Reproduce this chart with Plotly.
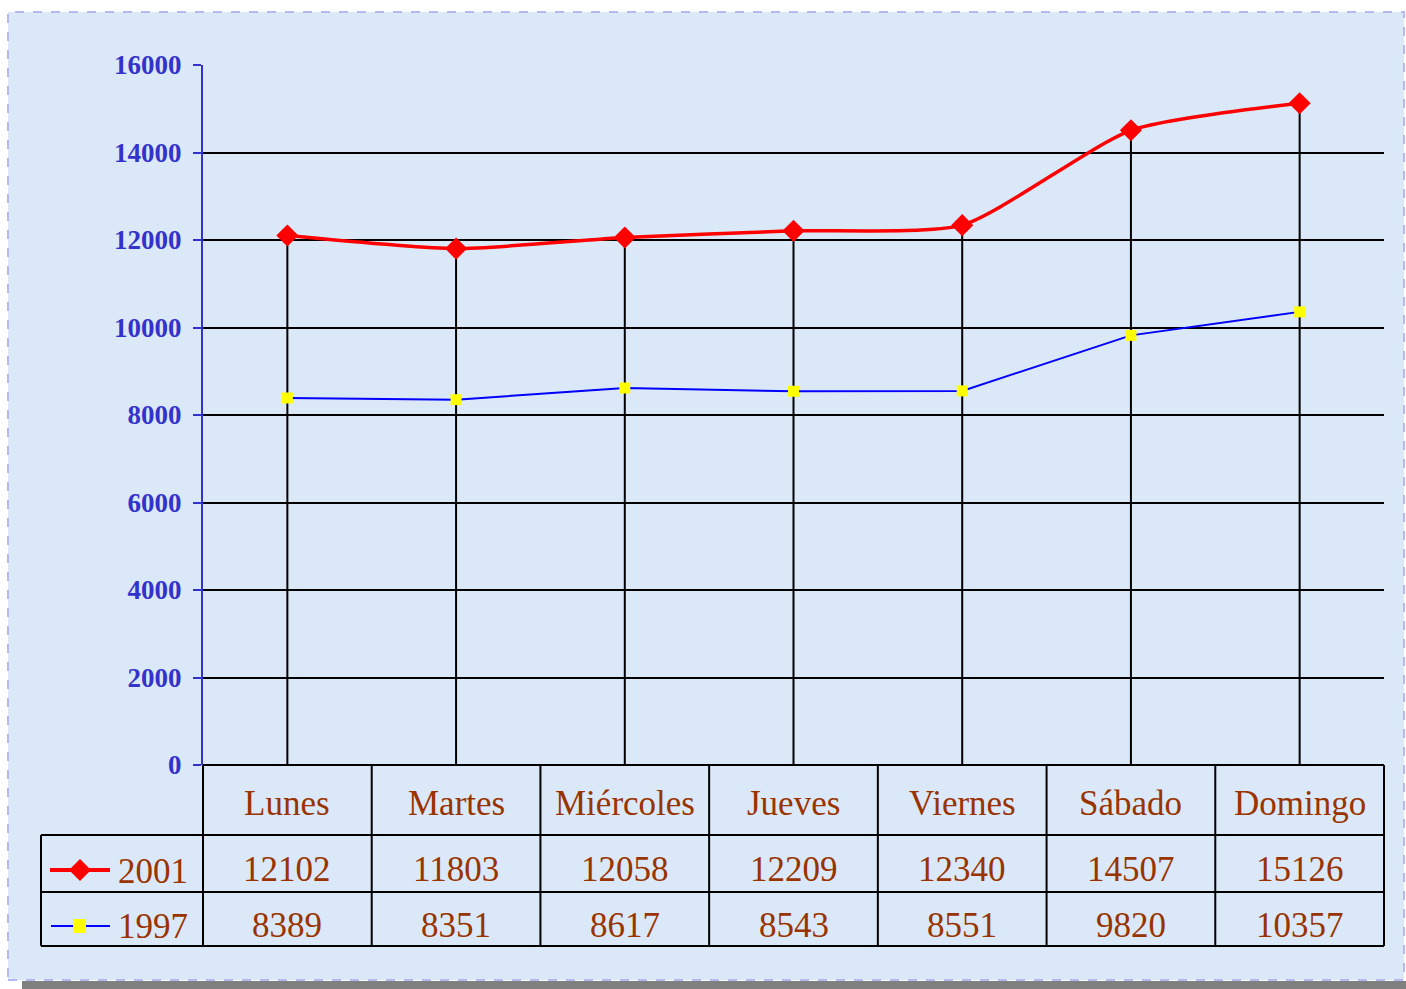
import plotly.graph_objects as go

categories = ["Lunes", "Martes", "Miércoles", "Jueves", "Viernes", "Sábado", "Domingo"]
series_2001 = [12102, 11803, 12058, 12209, 12340, 14507, 15126]
series_1997 = [8389, 8351, 8617, 8543, 8551, 9820, 10357]
series_names = ["2001", "1997"]
y_ticks = [0, 2000, 4000, 6000, 8000, 10000, 12000, 14000, 16000]

W, H = 1406, 989
# plot area in page pixels
L, R, T, B = 203, 1384, 65, 765
PW, PH = R - L, B - T

def px(x):
    return (x - L) / PW

def py(y):
    return (B - y) / PH

BROWN = "#993300"
AXBLUE = "#3333cc"
BG = "#dbe8f7"

fig = go.Figure()
n = len(categories)
xs = list(range(n))

# drop lines from 0 up to the top series
for i, v in enumerate(series_2001):
    fig.add_trace(go.Scatter(x=[i, i], y=[0, v], mode="lines",
                             line=dict(color="black", width=2),
                             showlegend=False, hoverinfo="skip"))

fig.add_trace(go.Scatter(x=xs, y=series_1997, mode="lines+markers", name="1997",
                         line=dict(color="#0000ff", width=2),
                         marker=dict(symbol="square", size=11, color="#ffff00"),
                         showlegend=False))
fig.add_trace(go.Scatter(x=xs, y=series_2001, mode="lines+markers", name="2001",
                         line=dict(color="#ff0000", width=3.5, shape="spline", smoothing=0.6),
                         marker=dict(symbol="diamond", size=17, color="#ff0000"),
                         showlegend=False))

shapes = []
# background panel with dashed border and shadow
shapes.append(dict(type="rect", xref="paper", yref="paper", layer="below",
                   x0=px(22), x1=px(1410), y0=py(995), y1=py(981),
                   fillcolor="#808080", line=dict(width=0)))
shapes.append(dict(type="rect", xref="paper", yref="paper", layer="below",
                   x0=px(8), x1=px(1404), y0=py(980), y1=py(12),
                   fillcolor=BG, line=dict(color="#b8b8f0", width=2, dash="dash")))

# data table
row_y = [765, 835, 892, 946]
lc = dict(color="black", width=2)
shapes.append(dict(type="line", xref="paper", yref="paper", x0=0, x1=1,
                   y0=py(row_y[0]), y1=py(row_y[0]), line=lc))
for yy in row_y[1:]:
    shapes.append(dict(type="line", xref="paper", yref="paper", x0=px(41), x1=1,
                       y0=py(yy), y1=py(yy), line=lc))
for k in range(n + 1):
    shapes.append(dict(type="line", xref="paper", yref="paper", x0=k / n, x1=k / n,
                       y0=py(row_y[0]), y1=py(row_y[3]), line=lc))
shapes.append(dict(type="line", xref="paper", yref="paper", x0=px(41), x1=px(41),
                   y0=py(row_y[1]), y1=py(row_y[3]), line=lc))

# legend keys in table
shapes.append(dict(type="line", xref="paper", yref="paper", x0=px(50), x1=px(110),
                   y0=py(870), y1=py(870), line=dict(color="#ff0000", width=4)))
cx, cy, d = 80, 870, 11
shapes.append(dict(type="path", xref="paper", yref="paper",
                   path=f"M {px(cx-d)} {py(cy)} L {px(cx)} {py(cy-d)} L {px(cx+d)} {py(cy)} L {px(cx)} {py(cy+d)} Z",
                   fillcolor="#ff0000", line=dict(width=0)))
shapes.append(dict(type="line", xref="paper", yref="paper", x0=px(51), x1=px(110),
                   y0=py(926), y1=py(926), line=dict(color="#0000ff", width=2)))
shapes.append(dict(type="rect", xref="paper", yref="paper",
                   x0=px(73), x1=px(86), y0=py(933), y1=py(919),
                   fillcolor="#ffff00", line=dict(width=0)))

annotations = []
tf = dict(family="Liberation Serif, Times New Roman, serif", size=35, color=BROWN)
def ann(x, y, text):
    return dict(x=x, y=y, xref="paper", yref="paper", text=text, showarrow=False,
                xanchor="center", yanchor="middle", font=tf)

for i, c in enumerate(categories):
    xc = (i + 0.5) / n
    annotations.append(ann(xc, py(803), c))
    annotations.append(ann(xc, py(869), str(series_2001[i])))
    annotations.append(ann(xc, py(925), str(series_1997[i])))
annotations.append(ann(px(153), py(871), series_names[0]))
annotations.append(ann(px(153), py(926), series_names[1]))

fig.update_layout(
    width=W, height=H,
    margin=dict(l=L, r=W - R, t=T, b=H - B, pad=0),
    paper_bgcolor="white",
    plot_bgcolor="rgba(0,0,0,0)",
    shapes=shapes,
    annotations=annotations,
    xaxis=dict(range=[-0.5, n - 0.5], showgrid=False, zeroline=False,
               showticklabels=False, ticks="", showline=False, fixedrange=True),
    yaxis=dict(range=[0, 16000], tickvals=y_ticks, ticktext=[str(t) for t in y_ticks],
               showgrid=True, gridcolor="black", gridwidth=2, zeroline=False,
               showline=True, linecolor=AXBLUE, linewidth=2,
               ticks="outside", ticklen=8, tickcolor=AXBLUE, tickwidth=2,
               ticklabelstandoff=6,
               tickfont=dict(family="Liberation Serif, Times New Roman, serif",
                             size=27, color=AXBLUE, weight="bold"),
               fixedrange=True),
)

fig.write_html("out.html", config={"displayModeBar": False},
               post_script="document.body.style.margin='0';document.body.style.overflow='hidden';")
